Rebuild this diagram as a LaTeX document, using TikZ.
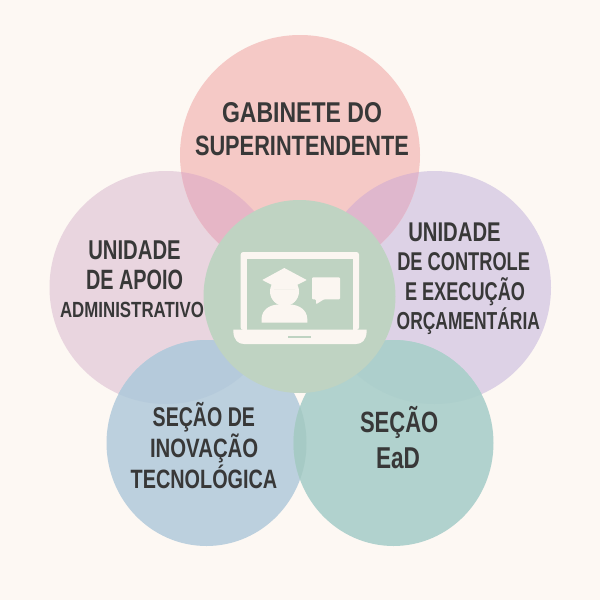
\documentclass[tikz,border=0pt]{standalone}
\usepackage{graphicx}
\usepackage{fontspec}
\setmainfont{Liberation Sans}
\definecolor{bg}{HTML}{FDF8F3}
\definecolor{ctop}{HTML}{F5C9C6}
\definecolor{cleft}{HTML}{E9D5DF}
\definecolor{cright}{HTML}{DDD2E6}
\definecolor{cbl}{HTML}{BCD0DE}
\definecolor{cbr}{HTML}{B1D2CE}
\definecolor{cmid}{HTML}{BFD3C2}
\definecolor{topleft}{HTML}{E6B6C6}
\definecolor{topright}{HTML}{DFB7CD}
\definecolor{blleft}{HTML}{B5CADB}
\definecolor{brright}{HTML}{ADCFCC}
\definecolor{blbr}{HTML}{A6CAC5}
\definecolor{cream}{HTML}{FBF6F1}
\definecolor{ink}{HTML}{383838}
\tikzset{
  lineText/.style={inner sep=0pt,outer sep=0pt,anchor=base west,text=ink},
  icon/.style={fill=cream,draw=none}
}
\newcommand{\tline}[6]{%
  \pgfmathsetmacro{\tw}{#3-#2}%
  \pgfmathsetmacro{\fs}{#5/0.716}%
  \node[lineText] (#1) at (#2,#4) {\resizebox{\tw pt}{\height}{\fontsize{\fs pt}{\fs pt}\selectfont\bfseries #6}};%
}
\newcommand{\cTop}{(300,155) circle [radius=120]}
\newcommand{\cLeft}{(166,287.5) circle [radius=116.5]}
\newcommand{\cRight}{(434.5,287.5) circle [radius=116.5]}
\newcommand{\cBL}{(206.5,443) ellipse [x radius=100,y radius=103]}
\newcommand{\cBR}{(393.5,443) ellipse [x radius=100,y radius=103]}
\begin{document}
\begin{tikzpicture}[x=1pt,y=-1pt]
\useasboundingbox (0,0) rectangle (600,600);
\fill[bg] (0,0) rectangle (600,600);
% big circles
\fill[cleft] \cLeft;
\fill[cright] \cRight;
\fill[ctop] \cTop;
\begin{scope}\clip \cTop; \fill[topleft] \cLeft; \fill[topright] \cRight;\end{scope}
\fill[cbl] \cBL;
\fill[cbr] \cBR;
\begin{scope}\clip \cBL; \fill[blleft] \cLeft; \fill[blbr] \cBR;\end{scope}
\begin{scope}\clip \cBR; \fill[brright] \cRight;\end{scope}
\fill[cmid] (299.5,296.5) ellipse [x radius=96,y radius=96.5];
% laptop
\fill[icon,rounded corners=2.5pt] (240.7,330) -- (240.7,252) -- (359,252) -- (359,330) -- cycle;
\fill[cmid] (246.7,259) rectangle (353.3,329.5);
\fill[icon] (233.3,329.5) -- (366.7,329.5) -- (366.7,331.5)
   .. controls (366.2,340) and (362,344) .. (356,344) -- (244,344)
   .. controls (238,344) and (233.8,340) .. (233.3,331.5) -- cycle;
\fill[cmid] (288,335.7) rectangle (311,337.7);
% person
\fill[icon] (284.5,291.5) circle [radius=14.5];
\fill[cmid] (274,289) -- (295,289) arc [start angle=0,end angle=180,radius=10.5,y radius=-12.5] -- cycle;
\fill[icon,line join=round] (262.3,280) -- (284.3,268) -- (306.7,280) -- (295,286) -- (295,289) -- (274,289) -- (274,286) -- cycle;
\fill[icon] (261.5,322.7) -- (307.3,322.7) -- (307.3,319)
   .. controls (307,309) and (298,305) .. (291,304.5) -- (278,304.5)
   .. controls (270,305) and (262,309) .. (261.5,319) -- cycle;
% speech bubble
\fill[icon,rounded corners=1pt] (312,277.3) -- (340,277.3) -- (340,299.3) -- (324,299.3) -- (316,304.3) -- (316,299.3) -- (312,299.3) -- cycle;
% texts
\tline{t1}{222}{382}{122.7}{20.5}{GABINETE DO}
\tline{t2}{195}{409}{155.7}{20}{SUPERINTENDENTE}
\tline{l1}{88.3}{180.7}{259.3}{19.5}{UNIDADE}
\tline{l2}{86}{183}{289}{20}{DE APOIO}
\tline{l3}{60}{204}{317.3}{15.7}{ADMINISTRATIVO}
\tline{r1}{408.3}{500.7}{241.7}{19.4}{UNIDADE}
\tline{r2}{397.3}{530}{270.7}{18.4}{DE CONTROLE}
\tline{r3}{405}{525}{300.7}{18.4}{E EXECUÇÃO}
\tline{r4}{396.7}{540}{329.3}{17.6}{ORÇAMENTÁRIA}
\tline{b1}{152.7}{255}{426.7}{19.4}{SEÇÃO DE}
\tline{b2}{150}{258.3}{457.3}{19}{INOVAÇÃO}
\tline{b3}{130.7}{277.3}{488.3}{19}{TECNOLÓGICA}
\tline{e1}{360}{438.3}{432.7}{21}{SEÇÃO}
\tline{e2}{376}{420}{468.3}{21.6}{EaD}
\end{tikzpicture}
\end{document}
